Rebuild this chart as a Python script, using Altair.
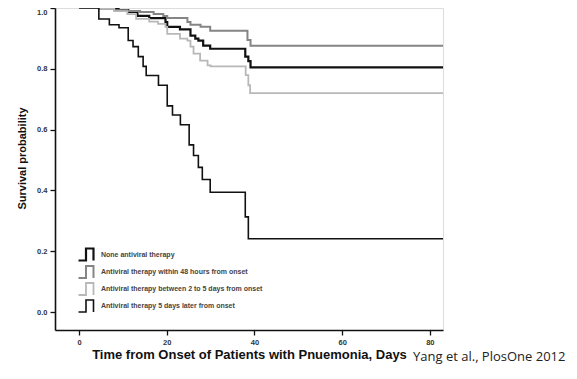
import altair as alt
import pandas as pd

# ---- data ----
series_names = [
    "None antiviral therapy",
    "Antiviral therapy within 48 hours from onset",
    "Antiviral therapy between 2 to 5 days from onset",
    "Antiviral therapy 5 days later from onset",
]
series_colors = ["#111111", "#858585", "#b8b8b8", "#111111"]

none_t = [0, 4.8, 9.0, 11.2, 13.3, 16.0, 19.7, 20.1, 23.0, 25.4, 26.5, 27.2, 28.3, 29.9, 37.9, 38.6, 39.1, 83]
none_s = [1.0, 0.997, 0.993, 0.987, 0.974, 0.967, 0.954, 0.938, 0.930, 0.909, 0.899, 0.893, 0.876, 0.866, 0.840, 0.825, 0.805, 0.805]

early_t = [0, 4.8, 8.0, 11.0, 13.9, 17.0, 19.2, 20.1, 24.7, 25.4, 27.7, 29.9, 38.4, 39.1, 83]
early_s = [1.0, 0.997, 0.993, 0.990, 0.987, 0.980, 0.974, 0.967, 0.954, 0.945, 0.938, 0.925, 0.895, 0.876, 0.876]

mid_t = [0, 4.8, 8.0, 11.0, 13.0, 16.0, 18.0, 19.7, 20.1, 23.0, 24.7, 25.4, 26.1, 27.6, 29.3, 30.0, 38.0, 38.6, 39.0, 83]
mid_s = [1.0, 0.997, 0.990, 0.980, 0.964, 0.955, 0.948, 0.938, 0.915, 0.899, 0.893, 0.873, 0.850, 0.827, 0.811, 0.808, 0.779, 0.746, 0.720, 0.720]

late_t = [0, 4.5, 6.9, 9.1, 11.2, 12.3, 13.5, 14.6, 15.3, 18.1, 20.1, 21.3, 23.1, 25.1, 26.1, 27.2, 28.1, 29.9, 37.9, 38.6, 83]
late_s = [1.0, 0.964, 0.945, 0.935, 0.893, 0.873, 0.840, 0.808, 0.778, 0.746, 0.678, 0.648, 0.616, 0.550, 0.515, 0.476, 0.436, 0.394, 0.313, 0.241, 0.241]

x_ticks = [0, 20, 40, 60, 80]
y_ticks = [0.0, 0.2, 0.4, 0.6, 0.8, 1.0]

rows = []
for name, ts, ss in zip(series_names, [none_t, early_t, mid_t, late_t], [none_s, early_s, mid_s, late_s]):
    for t, s in zip(ts, ss):
        rows.append({"group": name, "time": t, "surv": s})
df = pd.DataFrame(rows)

color_scale = alt.Scale(domain=series_names, range=series_colors)
width_scale = alt.Scale(domain=series_names, range=[2.2, 1.6, 1.5, 2.2])

lines = alt.Chart(df).mark_line(interpolate="step-after", clip=False).encode(
    x=alt.X("time:Q",
            scale=alt.Scale(domain=[-5.5, 83], nice=False, zero=False),
            axis=alt.Axis(values=x_ticks, title="Time from Onset of Patients with Pnuemonia, Days",
                          grid=False, domain=True, domainColor="#111", domainWidth=1.6,
                          ticks=True, tickSize=5, tickColor="#111", tickWidth=1.3,
                          labelFontSize=7.5, labelColor="#333", labelFont="Liberation Sans",
                          labelPadding=3, labelFontWeight="bold",
                          titleFont="Liberation Sans", titleFontSize=13, titleFontWeight="bold",
                          titleColor="#111", titleY=24,
                          titleBaseline="middle")),
    y=alt.Y("surv:Q",
            scale=alt.Scale(domain=[-0.059, 1.0], nice=False, zero=False),
            axis=alt.Axis(values=y_ticks, format=".1f", title="Survival probability",
                          grid=False, domain=True, domainColor="#111", domainWidth=1.6,
                          ticks=True, tickSize=5, tickColor="#111", tickWidth=1.3,
                          labelFontSize=7.5, labelColor="#333", labelFont="Liberation Sans",
                          labelPadding=3, labelFontWeight="bold", labelFlush=True,
                          titleFont="Liberation Sans", titleFontSize=11, titleFontWeight="bold",
                          titleColor="#111", titleX=-33, titleY=150, titleAngle=270,
                          titleAlign="center", titleBaseline="middle")),
    detail="group:N",
    color=alt.Color("group:N", scale=color_scale, sort=series_names,
                    legend=alt.Legend(title=None, orient="none", legendX=27, legendY=240,
                                      symbolType="M-2,1.2H-0.5V-1.2H1V1.2",
                                      symbolSize=100, symbolFillColor="transparent",
                                      symbolStrokeWidth=1.6, labelOffset=6,
                                      labelFont="Liberation Sans", labelFontSize=7,
                                      labelColor="#444", labelFontWeight="bold",
                                      rowPadding=-3, padding=0, labelLimit=300)),
    strokeWidth=alt.StrokeWidth("group:N", scale=width_scale, legend=None),
)

credit_text = ["Yang et al., PlosOne 2012"]
credit = alt.Chart(pd.DataFrame({"t": credit_text})).mark_text(
    align="left", baseline="middle", font="Open Sans", fontSize=13, color="#222"
).encode(text="t:N", x=alt.value(358), y=alt.value(349))

chart = alt.layer(lines, credit).properties(
    width=388, height=322, autosize="none",
    padding={"left": 47, "top": 0, "right": 126, "bottom": 41},
).configure_view(stroke=None).configure(background="white")

chart.save("out.html", embed_options={"renderer": "svg", "actions": False})
